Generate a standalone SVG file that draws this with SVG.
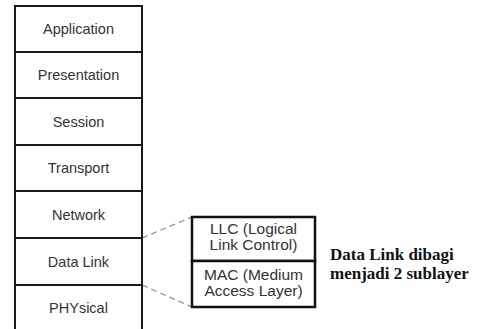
<svg xmlns="http://www.w3.org/2000/svg" width="477" height="329" viewBox="0 0 477 329">
<style>
.box{fill:#fff;stroke:#1a1a1a;stroke-width:2}
.sub{fill:#fff;stroke:#111;stroke-width:2.5}
.lbl{font-family:"Liberation Sans",Arial,sans-serif;font-size:14.5px;fill:#333;text-anchor:middle}
.sl{font-size:15.5px}
.note{font-family:"Liberation Serif","Times New Roman",serif;font-size:17px;font-weight:bold;fill:#111}
.dash{stroke:#8a8a8a;stroke-width:1.2;stroke-dasharray:6 4;fill:none}
</style>
<rect width="477" height="329" fill="#fff"/>
<g id="connectors">
<line class="dash" x1="142" y1="238" x2="192" y2="217"/>
<line class="dash" x1="142" y1="285" x2="192" y2="307"/>
</g>
<g id="application"><rect class="box" x="15" y="6" width="127" height="46"/><text class="lbl" x="78.5" y="34">Application</text></g>
<g id="presentation"><rect class="box" x="15" y="52" width="127" height="46"/><text class="lbl" x="78.5" y="80">Presentation</text></g>
<g id="session"><rect class="box" x="15" y="98" width="127" height="47"/><text class="lbl" x="78.5" y="126.5">Session</text></g>
<g id="transport"><rect class="box" x="15" y="145" width="127" height="46"/><text class="lbl" x="78.5" y="173">Transport</text></g>
<g id="network"><rect class="box" x="15" y="191" width="127" height="47"/><text class="lbl" x="78.5" y="219.5">Network</text></g>
<g id="datalink"><rect class="box" x="15" y="238" width="127" height="47"/><text class="lbl" x="78.5" y="266.5">Data Link</text></g>
<g id="physical"><rect class="box" x="15" y="285" width="127" height="50"/><text class="lbl" x="78.5" y="313">PHYsical</text></g>
<g id="llc"><rect class="sub" x="192" y="217" width="123" height="44"/><text class="lbl sl" x="253.5" y="234">LLC (Logical</text><text class="lbl sl" x="253.5" y="250">Link Control)</text></g>
<g id="mac"><rect class="sub" x="192" y="261" width="123" height="46"/><text class="lbl sl" x="253.5" y="280">MAC (Medium</text><text class="lbl sl" x="253.5" y="296">Access Layer)</text></g>
<g id="note"><text class="note" x="330" y="260">Data Link dibagi</text><text class="note" x="330" y="279">menjadi 2 sublayer</text></g>
</svg>
